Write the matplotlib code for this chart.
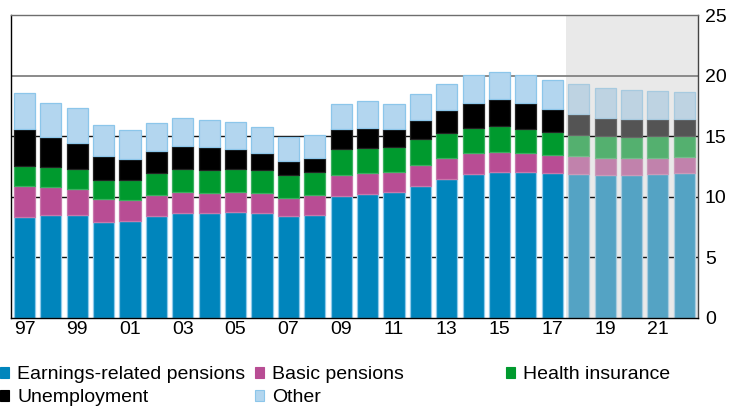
import matplotlib
matplotlib.use("Agg")
import matplotlib.pyplot as plt
from matplotlib.patches import Patch
from matplotlib.colors import to_rgb
import numpy as np

plt.rcParams['font.family'] = ['Liberation Sans', 'DejaVu Sans']

years = list(range(1997, 2023))
first_projection_year = 2018

# Cumulative top of each segment, % of GDP
earnings_top = [8.3, 8.53, 8.53, 7.95, 8.0, 8.44, 8.69, 8.69, 8.77, 8.69, 8.44, 8.53, 10.07,
                10.26, 10.37, 10.92, 11.47, 11.91, 12.07, 12.07, 11.96, 11.91, 11.83, 11.83, 11.91, 11.96]
basic_top = [10.86, 10.81, 10.62, 9.79, 9.76, 10.18, 10.42, 10.34, 10.37, 10.29, 9.9, 10.12, 11.8,
             11.94, 12.02, 12.62, 13.23, 13.59, 13.72, 13.64, 13.48, 13.34, 13.23, 13.2, 13.23, 13.28]
health_top = [12.57, 12.43, 12.27, 11.41, 11.41, 11.99, 12.29, 12.24, 12.29, 12.18, 11.77, 12.07, 13.94,
              14.05, 14.11, 14.74, 15.26, 15.7, 15.81, 15.59, 15.32, 15.13, 15.02, 14.96, 14.99, 15.02]
unemployment_top = [15.57, 14.9, 14.47, 13.34, 13.12, 13.75, 14.16, 14.08, 13.94, 13.61, 12.95, 13.17, 15.6,
                    15.7, 15.57, 16.31, 17.13, 17.77, 18.04, 17.71, 17.22, 16.83, 16.53, 16.45, 16.45, 16.45]
other_top = [18.6, 17.74, 17.3, 15.9, 15.48, 16.06, 16.47, 16.36, 16.14, 15.73, 14.93, 15.07, 17.68,
             17.9, 17.63, 18.51, 19.33, 20.08, 20.32, 20.02, 19.61, 19.31, 18.98, 18.81, 18.73, 18.67]

series = ["Earnings-related pensions", "Basic pensions", "Health insurance", "Unemployment", "Other"]
tops = [earnings_top, basic_top, health_top, unemployment_top, other_top]
colors = ["#0085bc", "#b84d94", "#009a2e", "#000000", "#b3d6ef"]
edges = ["#8fcaea", "#c878ac", "#3bb060", "#222222", "#8cc6ea"]

y_ticks = [0, 5, 10, 15, 20, 25]
x_tick_years = list(range(1997, 2022, 2))
x_tick_labels = [f"{y % 100:02d}" for y in x_tick_years]

FS = 14


def faded(c, a=0.406, g=207 / 255):
    r = np.array(to_rgb(c))
    return tuple(r * (1 - a) + g * a)


fig = plt.figure(figsize=(7.38, 4.09), dpi=100)
ax = fig.add_axes([11 / 738, 1 - 318 / 409, 687 / 738, 303 / 409])

x = np.array(years)
proj = x >= first_projection_year

ax.axvspan(first_projection_year - 0.5, 2022.6, color="#e9e9e9", zorder=0, lw=0)

for yv in [5, 10, 15]:
    ax.axhline(yv, color="#111111", lw=1.0, zorder=1)
ax.axhline(20, color="#8a8a8a", lw=1.4, zorder=1)

bottom = np.zeros(len(years))
for name, top, col, ec in zip(series, tops, colors, edges):
    top = np.array(top)
    h = top - bottom
    fc = [faded(col) if p else col for p in proj]
    ecs = [faded(ec) if p else ec for p in proj]
    ax.bar(x, h, bottom=bottom, width=0.8, color=fc, edgecolor=ecs, linewidth=0.9, zorder=2)
    bottom = top

ax.set_xlim(1996.49, 2022.52)
ax.set_ylim(0, 25)
ax.set_yticks(y_ticks)
ax.set_xticks(x_tick_years)
ax.set_xticklabels(x_tick_labels)
ax.yaxis.tick_right()
ax.tick_params(axis="both", length=0, labelsize=FS, colors="#000000")
ax.tick_params(axis="y", pad=5)
ax.tick_params(axis="x", pad=2)

ax.spines["left"].set_color("#000000")
ax.spines["bottom"].set_color("#000000")
ax.spines["top"].set_color("#6e6e6e")
ax.spines["right"].set_color("#444444")
for s in ax.spines.values():
    s.set_linewidth(1.0)
    s.set_zorder(3)

handles = {n: Patch(facecolor=c, edgecolor=(e if n == "Other" else c), lw=0.8)
           for n, c, e in zip(series, colors, edges)}
columns = [(["Earnings-related pensions", "Unemployment"], 0.0),
           (["Basic pensions", "Other"], 255 / 738),
           (["Health insurance"], 506 / 738)]
for names, xpos in columns:
    fig.legend([handles[n] for n in names], names, loc="upper left",
               bbox_to_anchor=(xpos, 1 - 366 / 409), frameon=False, fontsize=FS,
               handlelength=0.48, handleheight=0.48, handletextpad=0.4,
               labelspacing=0.33, borderpad=0, borderaxespad=0)

fig.savefig("out.png", dpi=100)
